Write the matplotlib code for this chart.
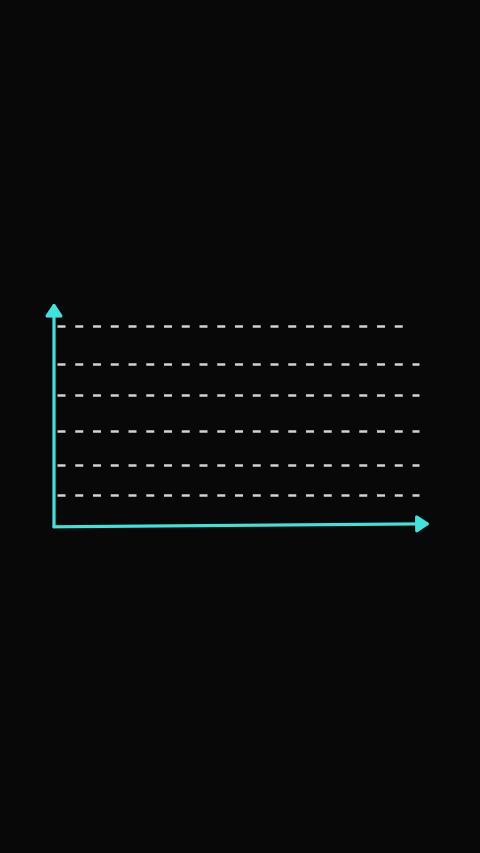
import matplotlib
matplotlib.use("Agg")
from matplotlib import pyplot as plt

# grid levels (height above the x axis) and where each dashed line stops
levels = [32, 62, 96, 132, 163, 201]
line_ends = [365, 365, 365, 365, 365, 350]

# axis extents (x axis rises a little towards its end)
x_max = 376
y_max = 224
x_axis_rise = 3

bg = "#080808"
cyan = "#3fe3dc"
grey = "#d2d2d2"

fig = plt.figure(figsize=(4.8, 8.535), dpi=100, facecolor=bg)
ax = fig.add_axes([54 / 480, (853 - 527) / 853, x_max / 480, y_max / 853])
ax.set_facecolor(bg)
ax.set_xlim(0, x_max)
ax.set_ylim(0, y_max)
ax.axis("off")

# dashed horizontal lines
for lev, end in zip(levels, line_ends):
    ax.plot([3, end], [lev, lev], color=grey, lw=1.8,
            ls=(0, (3.2, 3.9)), solid_capstyle="butt", clip_on=False)

# axes with arrow heads
arrow = dict(arrowstyle="-|>,head_length=0.75,head_width=0.5",
             color=cyan, lw=2.3, shrinkA=0, shrinkB=0)
ax.annotate("", xy=(0, y_max), xytext=(0, 0), arrowprops=arrow,
            annotation_clip=False)
ax.annotate("", xy=(x_max, x_axis_rise), xytext=(0, 0), arrowprops=arrow,
            annotation_clip=False)

fig.savefig("out.png", dpi=100, facecolor=bg)
